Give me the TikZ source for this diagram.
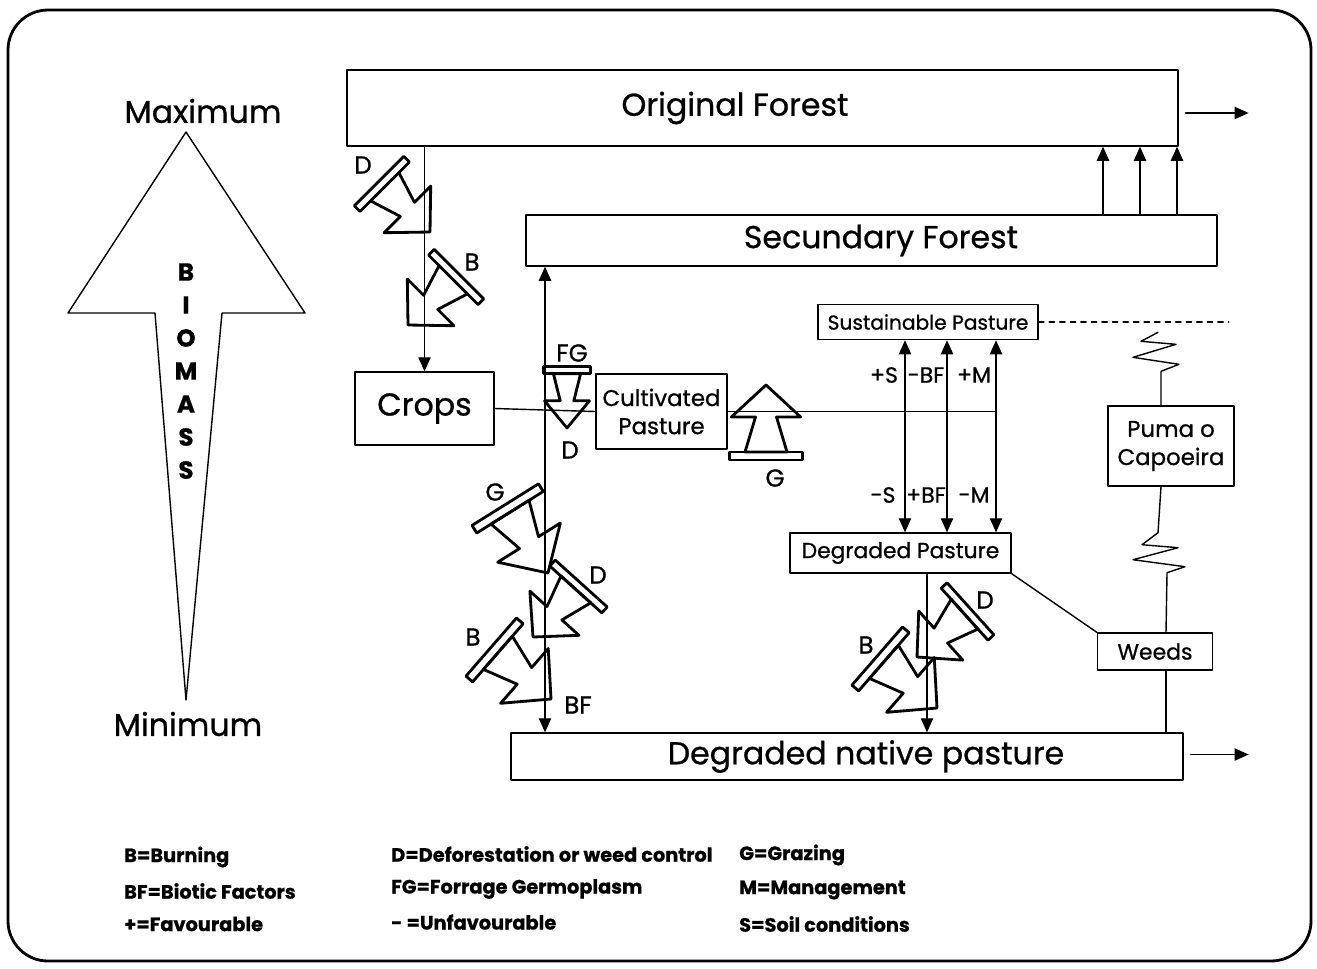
\documentclass[tikz,border=0pt]{standalone}
\usepackage{fontspec}
\setmainfont{Poppins}[FakeBold=0.8]
\usetikzlibrary{arrows.meta}
\tikzset{bolt line/.style={line width=1.6pt},
  pics/bolt/.style={code={
    \draw[bolt line] (0,0) -- (-32,33) -- (-32,10) -- (-#1,20) -- (-#1,-20) -- (-32,-10) -- (-32,-33) -- cycle;
    \draw[bolt line] (-#1,-35) rectangle (-#1-8,35);
  }}}
\begin{document}
\begin{tikzpicture}[x=0.02cm,y=-0.02cm,line cap=round,line join=round,
  >={Triangle[length=8pt,width=7pt]},
  box/.style={draw,line width=0.8pt,inner sep=0pt,align=center},
  big/.style={font=\fontsize{18}{20}\selectfont},
  mid/.style={font=\fontsize{13}{16}\selectfont},
  small/.style={font=\fontsize{11.5}{13}\selectfont},
  lab/.style={font=\fontsize{14}{16}\selectfont},
  sign/.style={font=\fontsize{12.5}{14}\selectfont},
  leg/.style={anchor=west,font=\bfseries\fontsize{11}{13}\selectfont},
  link/.style={line width=0.8pt}]
\useasboundingbox (0,0) rectangle (1317,968);
\draw[line width=1.6pt,rounded corners=0.8cm] (8,10) rectangle (1311,961);
% biomass scale
\draw[link] (186,132) -- (305,313) -- (222,313) -- (186,700) -- (155,313) -- (68,313) -- cycle;
\node[big] (max) at (203,111) {Maximum};
\node[big] (min) at (188,724) {Minimum};
\foreach \l [count=\i] in {B,I,O,M,A,S,S}
  \node[font=\bfseries\fontsize{14}{16}\selectfont] (bio\i) at (186,239+33*\i) {\l};
% boxes
\node[box,minimum width=16.62cm,minimum height=1.52cm,label={[big,xshift=-0.55cm]center:Original Forest}] (of) at (762.5,108) {};
\node[box,minimum width=13.82cm,minimum height=1.02cm,label={[big,xshift=0.19cm]center:Secundary Forest}] (sf) at (871.5,240.5) {};
\node[box,big,minimum width=2.78cm,minimum height=1.46cm] (crops) at (424.5,408.5) {Crops};
\node[box,mid,minimum width=2.62cm,minimum height=1.5cm] (cp) at (661.5,411.5) {Cultivated\\Pasture};
\node[box,small,minimum width=4.4cm,minimum height=0.7cm] (sp) at (928,322) {Sustainable Pasture};
\node[box,small,font=\fontsize{12.4}{14}\selectfont,minimum width=4.42cm,minimum height=0.8cm] (dp) at (900.5,553) {Degraded Pasture};
\node[box,mid,minimum width=2.52cm,minimum height=1.6cm] (puma) at (1171,446) {Puma o\\Capoeira};
\node[box,font=\fontsize{12.5}{14}\selectfont,minimum width=2.3cm,minimum height=0.74cm] (weeds) at (1155,651.5) {Weeds};
\node[box,minimum width=13.44cm,minimum height=0.94cm,label={[big,xshift=0.38cm]center:Degraded native pasture}] (dnp) at (847,756.5) {};
\coordinate (xa) at (545,0);
\coordinate (xs) at (905,0);
\coordinate (xbf) at (947,0);
\coordinate (xm) at (996,0);
\coordinate (xd) at (927,0);
\coordinate (xz) at (1161,0);
\coordinate (xw) at (1166,0);
% connectors
\draw[link,->] (crops.north |- of.south) -- (crops.north);
\draw[link,<->] (sf.south -| xa) -- (dnp.north -| xa);
\foreach \x in {1103,1140,1177}
  \draw[link,->] (sf.north -| \x,0) -- (of.south -| \x,0);
\draw[link] (crops.east) -- (cp.west);
\draw[link] (cp.east) -- (cp.east -| xm);
\foreach \c in {xs,xbf,xm}
  \draw[link,<->] (sp.south -| \c) -- (dp.north -| \c);
\draw[link,->] (dp.south -| xd) -- (dnp.north -| xd);
\draw[link] (dp.south east) -- (weeds.north west);
\draw[link,dashed] (sp.east) -- ++(190,0);
\draw[link] (puma.north -| xz) -- ++(0,-34) -- ++(18,-7) -- ++(-46,-7) -- ++(43,-13) -- ++(-35,-3) -- ++(17,-9);
\draw[link] (puma.south -| xz) -- ++(-3,46) -- ++(-16,12) -- ++(36,3) -- ++(-45,12) -- ++(52,7) -- ++(-18,6) -- (weeds.north -| xw);
\draw[link] (weeds.south -| xw) -- (dnp.north -| xw);
\draw[link,->] (of.east) ++(7,5) -- ++(63,0);
\draw[link,->] (dnp.east) ++(7,-2) -- ++(58,0);
\node[sign] (ps) at (884,375) {+S};
\node[sign] (mbf) at (926,375) {-BF};
\node[sign] (pm) at (974,375) {+M};
\node[sign] (ms) at (883,495) {-S};
\node[sign] (pbf) at (926,495) {+BF};
\node[sign] (mm) at (974,495) {-M};
% bolt arrows
\pic[rotate=-45] at (430,232) {bolt=64};
\pic[rotate=-135] at (408,325) {bolt=64};
\pic[rotate=-90,xscale=.85,yscale=.68] at (567,428) {bolt=64};
\pic[rotate=90,yscale=1.05] at (766,385) {bolt=67};
\pic[rotate=-58,scale=1.12] at (548,573) {bolt=64};
\pic[rotate=-132] at (533,637) {bolt=64};
\pic[rotate=-41,scale=1.1] at (551,699) {bolt=64};
\pic[rotate=-138] at (917,657) {bolt=64};
\pic[rotate=-41,scale=1.1] at (937,708) {bolt=64};
\node[lab] (dA) at (363,165) {D};
\node[lab] (bA) at (472,262) {B};
\node[lab] (fg) at (572,353) {FG};
\node[lab] (dB) at (570,450) {D};
\node[lab] (gA) at (775,478) {G};
\node[lab] (gB) at (495,492) {G};
\node[lab] (dC) at (598,575) {D};
\node[lab] (bB) at (473,637) {B};
\node[lab] (bf) at (578,705) {BF};
\node[lab] (dD) at (985,600) {D};
\node[lab] (bC) at (866,645) {B};
% legend
\node[leg] (l1) at (118,857) {B=Burning};
\node[leg] (l2) at (118,891) {BF=Biotic Factors};
\node[leg] (l3) at (118,924) {+=Favourable};
\node[leg] (l4) at (385,854) {D=Deforestation or weed control};
\node[leg] (l5) at (385,889) {FG=Forrage Germoplasm};
\node[leg] (l6) at (385,922) {- =Unfavourable};
\node[leg] (l7) at (733,855) {G=Grazing};
\node[leg] (l8) at (733,890) {M=Management};
\node[leg] (l9) at (733,924) {S=Soil conditions};
\end{tikzpicture}
\end{document}
